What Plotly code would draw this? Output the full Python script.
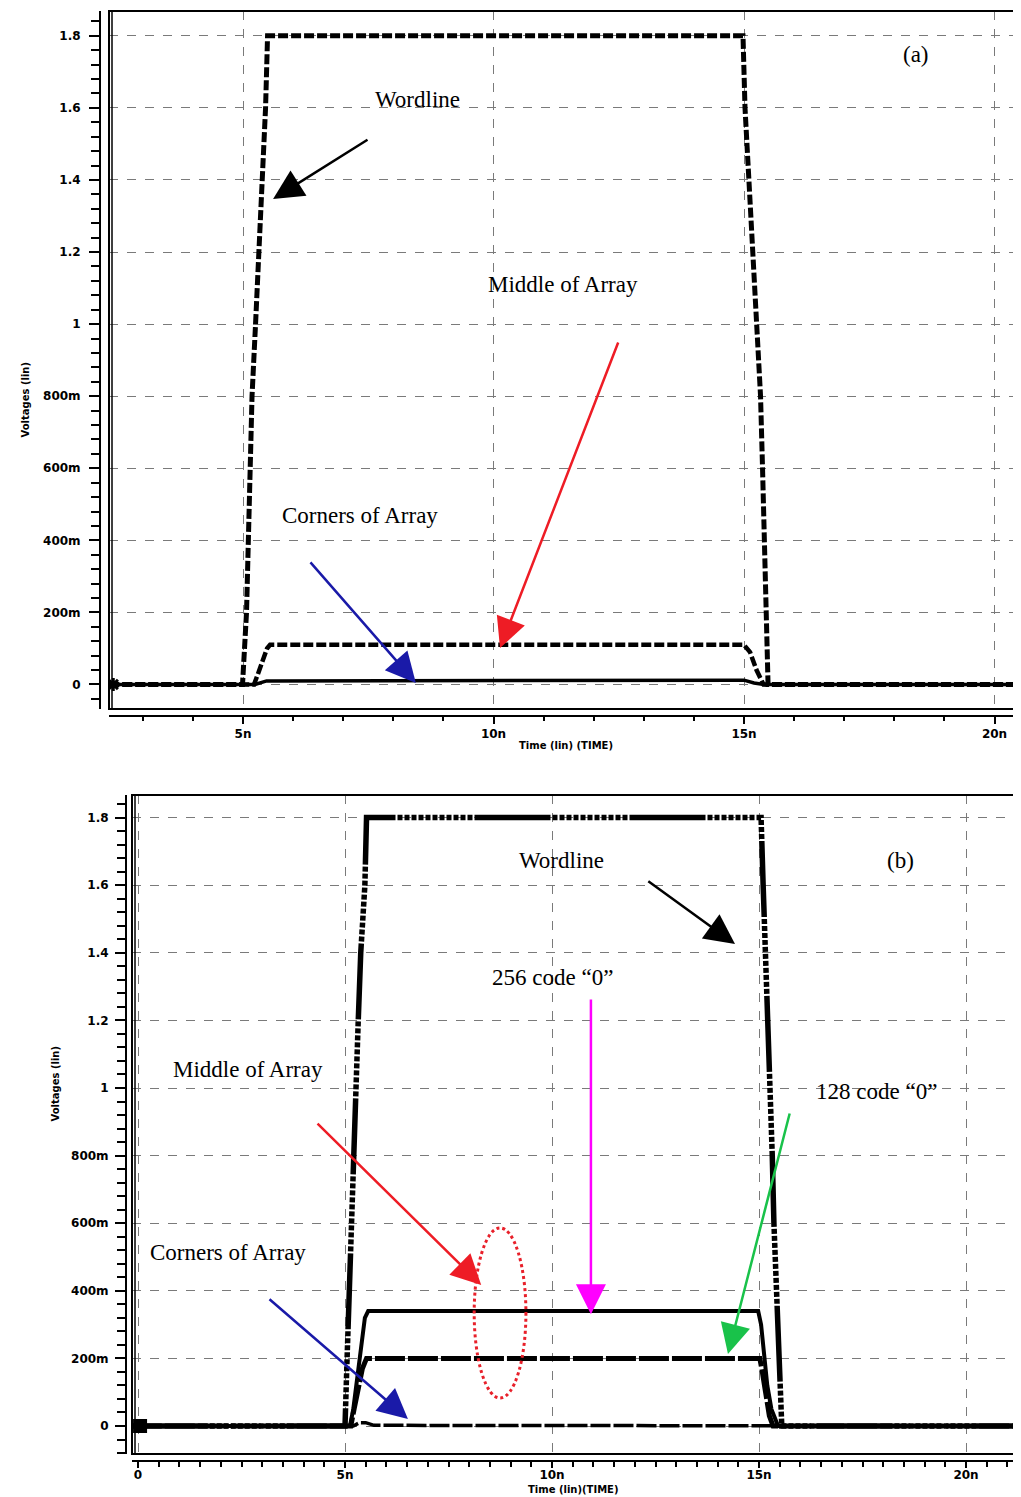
import plotly.graph_objects as go
import numpy as np

# ---------------- data (time in ns, voltage in V) ----------------
# Panel (a)
t_wl_a = [2.33, 4.99, 5.07, 5.10, 5.14, 5.18, 5.25, 5.32, 5.40, 5.45, 5.49,
          14.98, 15.02, 15.10, 15.18, 15.26, 15.33, 15.37, 15.41, 15.44, 15.48, 20.53]
v_wl_a = [0.0, 0.0, 0.2, 0.4, 0.6, 0.8, 1.0, 1.2, 1.4, 1.6, 1.8,
          1.8, 1.6, 1.4, 1.2, 1.0, 0.8, 0.6, 0.4, 0.2, 0.0, 0.0]
t_mid_a = [2.33, 5.22, 5.30, 5.40, 5.48, 5.54, 15.00, 15.12, 15.25, 15.39, 20.53]
v_mid_a = [0.0, 0.0, 0.03, 0.07, 0.10, 0.11, 0.11, 0.09, 0.04, 0.0, 0.0]
t_cor_a = [2.33, 5.24, 5.47, 15.00, 15.20, 15.40, 20.53]
v_cor_a = [0.0, 0.0, 0.01, 0.012, 0.004, 0.0, 0.0]

# Panel (b)
t_wl_b = [-0.15, 5.00, 5.05, 5.10, 5.14, 5.19, 5.24, 5.32, 5.38, 5.48, 5.52,
          15.05, 15.10, 15.16, 15.21, 15.28, 15.32, 15.36, 15.43, 15.49, 15.55, 21.3]
v_wl_b = [0.0, 0.0, 0.2, 0.4, 0.6, 0.8, 1.0, 1.2, 1.4, 1.6, 1.8,
          1.8, 1.6, 1.4, 1.2, 1.0, 0.8, 0.6, 0.4, 0.2, 0.0, 0.0]
t_256_b = [-0.15, 5.12, 5.20, 5.30, 5.40, 5.48, 5.56, 14.98, 15.05, 15.12, 15.20, 15.30, 15.46, 21.3]
v_256_b = [0.0, 0.0, 0.05, 0.15, 0.25, 0.32, 0.34, 0.34, 0.30, 0.20, 0.12, 0.05, 0.0, 0.0]
t_128_b = [-0.15, 5.14, 5.22, 5.32, 5.42, 5.52, 15.02, 15.08, 15.16, 15.25, 15.34, 21.3]
v_128_b = [0.0, 0.0, 0.05, 0.11, 0.17, 0.2, 0.2, 0.16, 0.09, 0.03, 0.0, 0.0]
t_cor_b = [-0.15, 5.20, 5.35, 5.50, 5.70, 15.00, 15.30, 21.3]
v_cor_b = [0.0, 0.0, 0.01, 0.01, 0.002, 0.002, 0.0, 0.0]

# ticks
y_tickvals = [0, 0.2, 0.4, 0.6, 0.8, 1.0, 1.2, 1.4, 1.6, 1.8]
y_ticktext = ['0', '200m', '400m', '600m', '800m', '1', '1.2', '1.4', '1.6', '1.8']
xa_tickvals = [5, 10, 15, 20]
xa_ticktext = ['5n', '10n', '15n', '20n']
xb_tickvals = [0, 5, 10, 15, 20]
xb_ticktext = ['0', '5n', '10n', '15n', '20n']

# ---------------- figure ----------------
W, H = 1021, 1497
OFF = 8  # default page body margin
fig = go.Figure()

def px(v):
    return (v - OFF) / W

def py(v):
    return 1 - (v - OFF) / H

# panel (a) traces
fig.add_trace(go.Scatter(x=t_wl_a, y=v_wl_a, mode='lines', xaxis='x', yaxis='y',
                         line=dict(color='black', width=5, dash='10px,3px')))
fig.add_trace(go.Scatter(x=t_mid_a, y=v_mid_a, mode='lines', xaxis='x', yaxis='y',
                         line=dict(color='black', width=4.5, dash='10px,3px')))
fig.add_trace(go.Scatter(x=t_cor_a, y=v_cor_a, mode='lines', xaxis='x', yaxis='y',
                         line=dict(color='black', width=3.5)))
fig.add_trace(go.Scatter(x=[2.41], y=[0], mode='markers', xaxis='x', yaxis='y',
                         marker=dict(symbol='asterisk-open', size=11, color='black',
                                     line=dict(width=3, color='black'))))

# panel (b) traces
dot_pat = '76px' + ',2px,5px' * 11 + ',2px'
fig.add_trace(go.Scatter(x=t_wl_b, y=v_wl_b, mode='lines', xaxis='x2', yaxis='y2',
                         line=dict(color='black', width=5.5, dash=dot_pat)))
fig.add_trace(go.Scatter(x=t_cor_b, y=v_cor_b, mode='lines', xaxis='x2', yaxis='y2',
                         line=dict(color='black', width=3.5, dash='20px,3px')))
fig.add_trace(go.Scatter(x=t_128_b, y=v_128_b, mode='lines', xaxis='x2', yaxis='y2',
                         line=dict(color='black', width=5, dash='30px,3px')))
fig.add_trace(go.Scatter(x=t_256_b, y=v_256_b, mode='lines', xaxis='x2', yaxis='y2',
                         line=dict(color='black', width=4)))
fig.add_trace(go.Scatter(x=[0.05], y=[0], mode='markers', xaxis='x2', yaxis='y2',
                         marker=dict(symbol='square', size=14, color='black')))

tickfont = dict(family='DejaVu Sans', size=12, color='black', weight='bold')
grid = dict(showgrid=True, gridcolor='#7a7a7a', gridwidth=1, griddash='dash', zeroline=False)

minor_y = [round(v, 2) for v in np.arange(-0.08, 1.861, 0.04)]

fig.update_layout(
    width=W, height=H, margin=dict(l=0, r=0, t=0, b=0),
    paper_bgcolor='white', plot_bgcolor='white', showlegend=False,
    xaxis=dict(domain=[px(109), px(1021)], range=[2.325, 20.529], anchor='free', position=py(716),
               tickmode='array', tickvals=xa_tickvals, ticktext=xa_ticktext,
               ticks='outside', ticklen=7, tickwidth=2, tickcolor='black',
               showline=True, linecolor='black', linewidth=2, tickfont=tickfont,
               minor=dict(tickmode='array', tickvals=list(range(3, 21)), ticks='outside',
                          ticklen=4, tickwidth=2, tickcolor='black', showgrid=False),
               **grid),
    yaxis=dict(domain=[py(709), py(11)], range=[-0.068, 1.8688], anchor='free', position=px(100),
               tickmode='array', tickvals=y_tickvals, ticktext=y_ticktext,
               ticks='outside', ticklen=10, tickwidth=2, tickcolor='black',
               showline=True, linecolor='black', linewidth=2, tickfont=tickfont,
               ticklabelstandoff=6,
               minor=dict(tickmode='array', tickvals=minor_y[1:], ticks='outside',
                          ticklen=8, tickwidth=2, tickcolor='black', showgrid=False),
               **grid),
    xaxis2=dict(domain=[px(132), px(1020)], range=[-0.145, 21.304], anchor='free', position=py(1461),
                tickmode='array', tickvals=xb_tickvals, ticktext=xb_ticktext,
                ticks='outside', ticklen=6, tickwidth=2, tickcolor='black',
                showline=True, linecolor='black', linewidth=2, tickfont=tickfont,
                ticklabelstandoff=-3,
                minor=dict(tickmode='array', tickvals=[v / 2 for v in range(0, 43)], ticks='outside',
                           ticklen=5, tickwidth=2, tickcolor='black', showgrid=False),
                **grid),
    yaxis2=dict(domain=[py(1454), py(795)], range=[-0.0828, 1.8669], anchor='free', position=px(126),
                tickmode='array', tickvals=y_tickvals, ticktext=y_ticktext,
                ticks='outside', ticklen=10, tickwidth=2, tickcolor='black',
                showline=True, linecolor='black', linewidth=2, tickfont=tickfont,
                ticklabelstandoff=4,
                minor=dict(tickmode='array', tickvals=minor_y, ticks='outside',
                           ticklen=8, tickwidth=2, tickcolor='black', showgrid=False),
                **grid),
)

# frames
for xr, yr in [('x', 'y'), ('x2', 'y2')]:
    fig.add_shape(type='rect', xref=f'{xr} domain', yref=f'{yr} domain', x0=0, x1=1, y0=0, y1=1,
                  line=dict(color='black', width=2), layer='above')
fig.add_shape(type='line', xref='paper', yref='y domain', x0=px(112), x1=px(112), y0=0, y1=1,
              line=dict(color='black', width=1.5))
fig.add_shape(type='line', xref='paper', yref='y2 domain', x0=px(135), x1=px(135), y0=0, y1=1,
              line=dict(color='black', width=1.5))

# dotted ellipse
fig.add_shape(type='circle', xref='x2', yref='y2', x0=8.12, x1=9.37, y0=0.083, y1=0.586,
              line=dict(color='#e8202a', width=3, dash='dot'))

serif = dict(family='Liberation Serif', size=23, color='black')
labels = [
    ('x', 'y', 18.43, 1.747, '(a)'),
    ('x', 'y', 8.49, 1.622, 'Wordline'),
    ('x', 'y', 11.39, 1.111, 'Middle of Array'),
    ('x', 'y', 7.34, 0.470, 'Corners of Array'),
    ('x2', 'y2', 18.41, 1.672, '(b)'),
    ('x2', 'y2', 10.24, 1.672, 'Wordline'),
    ('x2', 'y2', 10.02, 1.328, '256 code \u201c0\u201d'),
    ('x2', 'y2', 2.66, 1.056, 'Middle of Array'),
    ('x2', 'y2', 17.83, 0.991, '128 code \u201c0\u201d'),
    ('x2', 'y2', 2.17, 0.512, 'Corners of Array'),
]
for xr, yr, x, y, txt in labels:
    fig.add_annotation(xref=xr, yref=yr, x=x, y=y, text=txt, showarrow=False, font=serif)

arrows = [
    ('x', 'y', 7.515, 1.514, 5.60, 1.347, 'black'),
    ('x', 'y', 12.50, 0.953, 10.13, 0.101, '#ee1c25'),
    ('x', 'y', 6.32, 0.343, 8.45, 0.004, '#1a1aa8'),
    ('x2', 'y2', 12.29, 1.615, 14.42, 1.426, 'black'),
    ('x2', 'y2', 10.94, 1.266, 10.94, 0.331, '#ff00ff'),
    ('x2', 'y2', 15.75, 0.929, 14.25, 0.213, '#19c24a'),
    ('x2', 'y2', 4.30, 0.899, 8.29, 0.417, '#ee1c25'),
    ('x2', 'y2', 3.14, 0.379, 6.52, 0.021, '#1a1aa8'),
]
for xr, yr, x0, y0, x1, y1, col in arrows:
    fig.add_annotation(xref=xr, yref=yr, axref=xr, ayref=yr, x=x1, y=y1, ax=x0, ay=y0,
                       text='', showarrow=True, arrowhead=2, arrowsize=2.4, arrowwidth=2.5,
                       arrowcolor=col, standoff=0, startstandoff=0)

# axis titles
tfont = dict(family='DejaVu Sans', size=10, color='black', weight='bold')
fig.add_annotation(xref='paper', yref='paper', x=px(566), y=py(745), text='Time (lin) (TIME)',
                   showarrow=False, font=tfont)
fig.add_annotation(xref='paper', yref='paper', x=px(573), y=py(1482), yanchor='top',
                   text='Time (lin)(TIME)', showarrow=False, font=tfont)
fig.add_annotation(xref='paper', yref='paper', x=px(18), y=py(360), text='Voltages (lin)',
                   showarrow=False, font=tfont, textangle=-90)
fig.add_annotation(xref='paper', yref='paper', x=px(47), y=py(1124), text='Voltages (lin)',
                   showarrow=False, font=tfont, textangle=-90)

fig.write_html('out.html')
